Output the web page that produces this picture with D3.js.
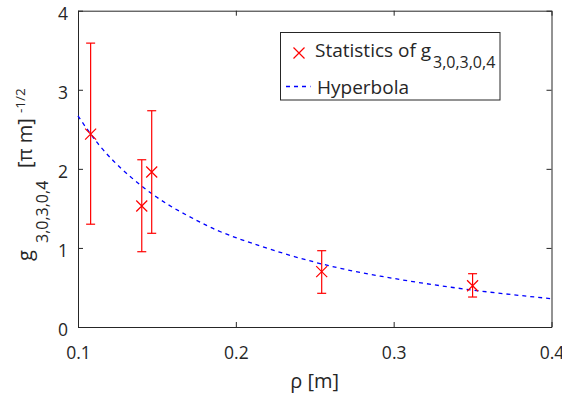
<!DOCTYPE html>
<html>
<head>
<meta charset="utf-8">
<script src="https://cdn.jsdelivr.net/npm/d3@7"></script>
<style>
  body { margin: 0; background: #fff; }
  svg text { font-family: "Open Sans", sans-serif; fill: #262626; }
</style>
</head>
<body>
<svg id="chart" width="562" height="396"></svg>
<script>
// measured statistics of g_{3,0,3,0,4}
var rho   = [0.108, 0.1404, 0.1467, 0.2544, 0.350],
    gMean = [2.44, 1.53, 1.96, 0.70, 0.522],
    gLow  = [1.30, 0.952, 1.185, 0.426, 0.379],
    gHigh = [3.59, 2.115, 2.735, 0.965, 0.674];

// hyperbola, values
var hypX = [0.1, 0.11, 0.125, 0.15, 0.175, 0.2, 0.25, 0.3, 0.35, 0.4],
    hypY = [2.67, 2.387, 2.05, 1.64, 1.35, 1.13, 0.82, 0.614, 0.467, 0.358];

var xTicks = [0.1, 0.2, 0.3, 0.4],
    yTicks = [0, 1, 2, 3, 4];

var svg = d3.select("#chart");
var margin = {top: 10.7, right: 10.5, bottom: 69, left: 78},
    width = +svg.attr("width") - margin.left - margin.right,
    height = +svg.attr("height") - margin.top - margin.bottom,
    g = svg.append("g").attr("transform", "translate(" + margin.left + "," + margin.top + ")");

var x = d3.scaleLinear().domain([0.1, 0.4]).range([0, width]);
var y = d3.scaleLinear().domain([0, 4]).range([height, 0]);

// axes, ticks pointing inward (MATLAB style box)
var axisColor = "#262626";
function styleAxis(sel, hideText) {
  sel.select(".domain").attr("stroke", axisColor);
  sel.selectAll(".tick line").attr("stroke", axisColor);
  sel.selectAll(".tick text").attr("font-size", 17.5).attr("fill", axisColor);
  if (hideText) sel.selectAll(".tick text").remove();
}

g.append("g")
    .attr("transform", "translate(0," + height + ")")
    .call(d3.axisBottom(x).tickValues(xTicks).tickFormat(d3.format(".1f")).tickSizeInner(-5).tickSizeOuter(0).tickPadding(20))
    .call(styleAxis, false);
g.append("g")
    .call(d3.axisTop(x).tickValues(xTicks).tickSizeInner(-5).tickSizeOuter(0))
    .call(styleAxis, true);
g.append("g")
    .call(d3.axisLeft(y).tickValues(yTicks).tickFormat(d3.format("d")).tickSizeInner(-5).tickSizeOuter(0).tickPadding(10))
    .call(styleAxis, false)
    .selectAll(".tick text").attr("dy", "0.5em");
g.append("g")
    .attr("transform", "translate(" + width + ",0)")
    .call(d3.axisRight(y).tickValues(yTicks).tickSizeInner(-5).tickSizeOuter(0))
    .call(styleAxis, true);
g.selectAll(".domain").attr("stroke-width", 1);

// hyperbola
var hyp = d3.zip(hypX, hypY);
g.append("path")
    .datum(hyp)
    .attr("fill", "none")
    .attr("stroke", "#0000ff")
    .attr("stroke-width", 1.3)
    .attr("stroke-dasharray", "4,4")
    .attr("d", d3.line().x(function(d) { return x(d[0]); }).y(function(d) { return y(d[1]); }).curve(d3.curveNatural));

// error bars
var pts = rho.map(function(r, i) { return {x: r, m: gMean[i], lo: gLow[i], hi: gHigh[i]}; });
var red = "#ff0000", cap = 4.5, mk = 5.5;
var eb = g.selectAll(".eb").data(pts).enter().append("g")
    .attr("stroke", red).attr("stroke-width", 1.2).attr("fill", "none");
eb.append("line")
    .attr("x1", function(d) { return x(d.x); }).attr("x2", function(d) { return x(d.x); })
    .attr("y1", function(d) { return y(d.lo); }).attr("y2", function(d) { return y(d.hi); });
eb.append("line")
    .attr("x1", function(d) { return x(d.x) - cap; }).attr("x2", function(d) { return x(d.x) + cap; })
    .attr("y1", function(d) { return y(d.lo); }).attr("y2", function(d) { return y(d.lo); });
eb.append("line")
    .attr("x1", function(d) { return x(d.x) - cap; }).attr("x2", function(d) { return x(d.x) + cap; })
    .attr("y1", function(d) { return y(d.hi); }).attr("y2", function(d) { return y(d.hi); });
eb.append("path")
    .attr("d", function(d) {
      var cx = x(d.x), cy = y(d.m);
      return "M" + (cx - mk) + "," + (cy - mk) + "L" + (cx + mk) + "," + (cy + mk) +
             "M" + (cx - mk) + "," + (cy + mk) + "L" + (cx + mk) + "," + (cy - mk);
    });

// axis labels
svg.append("text")
    .attr("x", margin.left + width / 2).attr("y", 388)
    .attr("text-anchor", "middle").attr("font-size", 20)
    .text("ρ [m]");

var yl = svg.append("text")
    .attr("transform", "translate(32,175) rotate(-90)")
    .attr("font-size", 20);
yl.append("tspan").attr("x", -86).attr("y", 0).text("g");
yl.append("tspan").attr("x", -68).attr("y", 16).attr("font-size", 16).text("3,0,3,0,4");
yl.append("tspan").attr("x", 7).attr("y", 0).text("[π m]");
yl.append("tspan").attr("x", 62).attr("y", -7).attr("font-size", 13.5).text("-1/2");

// legend
var lg = svg.append("g").attr("transform", "translate(280.5,32.5)");
lg.append("rect").attr("width", 219.5).attr("height", 67.5)
    .attr("fill", "#fff").attr("stroke", axisColor).attr("stroke-width", 1);
lg.append("path")
    .attr("d", "M" + (18.5 - mk) + "," + (20.5 - mk) + "L" + (18.5 + mk) + "," + (20.5 + mk) +
               "M" + (18.5 - mk) + "," + (20.5 + mk) + "L" + (18.5 + mk) + "," + (20.5 - mk))
    .attr("stroke", red).attr("stroke-width", 1.2);
var lt = lg.append("text").attr("font-size", 19);
lt.append("tspan").attr("x", 34.5).attr("y", 24.5).text("Statistics of g");
lt.append("tspan").attr("x", 152.5).attr("y", 35.5).attr("font-size", 16).text("3,0,3,0,4");
lg.append("line").attr("x1", 5.5).attr("x2", 30).attr("y1", 54).attr("y2", 54)
    .attr("stroke", "#0000ff").attr("stroke-width", 1.3).attr("stroke-dasharray", "4,4");
lg.append("text").attr("x", 36.5).attr("y", 61).attr("font-size", 19).text("Hyperbola");
</script>
</body>
</html>
